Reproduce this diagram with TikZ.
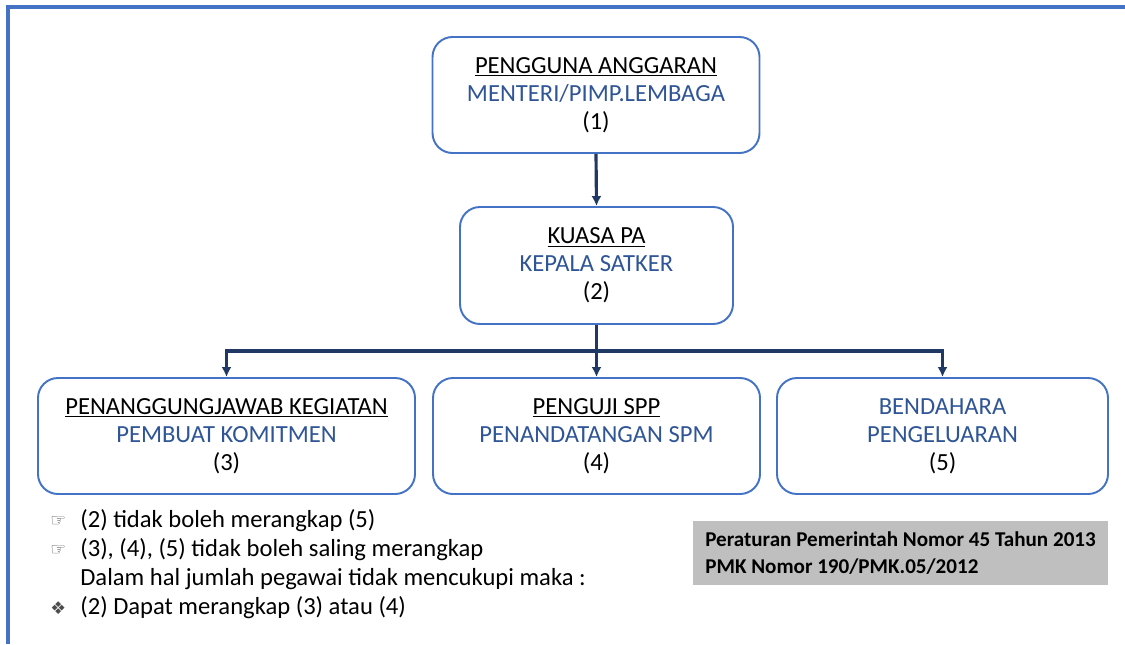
\documentclass[tikz,border=0pt]{standalone}
\usepackage{fontspec}
\setmainfont{Carlito}
\newfontfamily\symfont{DejaVu Sans}
\usepackage{xcolor}
\usetikzlibrary{arrows.meta}

\definecolor{frameblue}{HTML}{4472C4}
\definecolor{textblue}{HTML}{2F5597}
\definecolor{linenavy}{HTML}{1F3864}
\definecolor{notegray}{HTML}{BFBFBF}

\tikzset{
  unitbox/.style={draw=frameblue, line width=1.1pt, rounded corners=0.4cm, fill=white,
    align=center, font=\fontsize{14}{16}\selectfont, inner sep=0pt},
  conn/.style={draw=linenavy, line width=1.8pt, -{Latex[length=2mm,width=2mm]}},
  notetext/.style={anchor=west, inner sep=0pt, font=\fontsize{14}{16}\selectfont}
}

\begin{document}
\begin{tikzpicture}
    \useasboundingbox (0,0) rectangle (22.5,-12.88);

    % Rahmen
    \draw[frameblue, line width=2pt] (0.16,-12.88) -- (0.16,-0.14) -- (22.5,-0.14);

    % Pengguna Anggaran
    \node[unitbox, minimum width=6.54cm, minimum height=2.32cm] (pa) at (11.92,-1.9)
      {\underline{PENGGUNA ANGGARAN}\\ \textcolor{textblue}{MENTERI/PIMP.LEMBAGA}\\ (1)};

    % Kuasa PA
    \node[unitbox, minimum width=5.46cm, minimum height=2.34cm] (kpa) at (11.93,-5.31)
      {\underline{KUASA PA}\\ \textcolor{textblue}{KEPALA SATKER}\\ (2)};

    % PPK
    \node[unitbox, minimum width=7.54cm, minimum height=2.32cm] (ppk) at (4.53,-8.72)
      {\underline{PENANGGUNGJAWAB KEGIATAN}\\ \textcolor{textblue}{PEMBUAT KOMITMEN}\\ (3)};

    % PPSPM
    \node[unitbox, minimum width=6.54cm, minimum height=2.32cm] (ppspm) at (11.93,-8.72)
      {\underline{PENGUJI SPP}\\ \textcolor{textblue}{PENANDATANGAN SPM}\\ (4)};

    % Bendahara
    \node[unitbox, minimum width=6.62cm, minimum height=2.32cm] (bend) at (18.85,-8.72)
      {\textcolor{textblue}{BENDAHARA}\\ \textcolor{textblue}{PENGELUARAN}\\ (5)};

    % Garis komando
    \draw[conn] (pa.south) -- (kpa.north);
    \coordinate (bus) at (11.93,-7.02);
    \draw[draw=linenavy, line width=1.8pt] (kpa.south) -- (bus);
    \draw[conn] (bus) -| (ppk.north);
    \draw[conn] (bus) -| (bend.north);
    \draw[conn] (bus) -- (ppspm.north);

    % Catatan
    \node[notetext] (b1) at (1.0,-10.42) {\symfont\fontsize{10}{12}\selectfont\textcolor{black!70}{☞}};
    \node[notetext] (n1) at (1.6,-10.42) {(2) tidak boleh merangkap (5)};
    \node[notetext] (b2) at (1.0,-11.0) {\symfont\fontsize{10}{12}\selectfont\textcolor{black!70}{☞}};
    \node[notetext] (n2) at (1.6,-11.0) {(3), (4), (5) tidak boleh saling merangkap};
    \node[notetext] (n3) at (1.6,-11.58) {Dalam hal jumlah pegawai tidak mencukupi maka :};
    \node[notetext] (b3) at (1.0,-12.16) {\symfont\fontsize{10}{12}\selectfont\textcolor{black!70}{❖}};
    \node[notetext] (n4) at (1.6,-12.16) {(2) Dapat merangkap (3) atau (4)};

    % Dasar hukum
    \node[fill=notegray, anchor=north west, minimum width=8.3cm, minimum height=1.28cm,
      inner sep=0pt] (dasar) at (13.86,-10.42) {};
    \node[notetext, align=left, font=\bfseries\fontsize{12}{15}\selectfont] (dasartext)
      at (14.1,-11.06) {Peraturan Pemerintah Nomor 45 Tahun 2013\\ PMK Nomor 190/PMK.05/2012};
\end{tikzpicture}
\end{document}
